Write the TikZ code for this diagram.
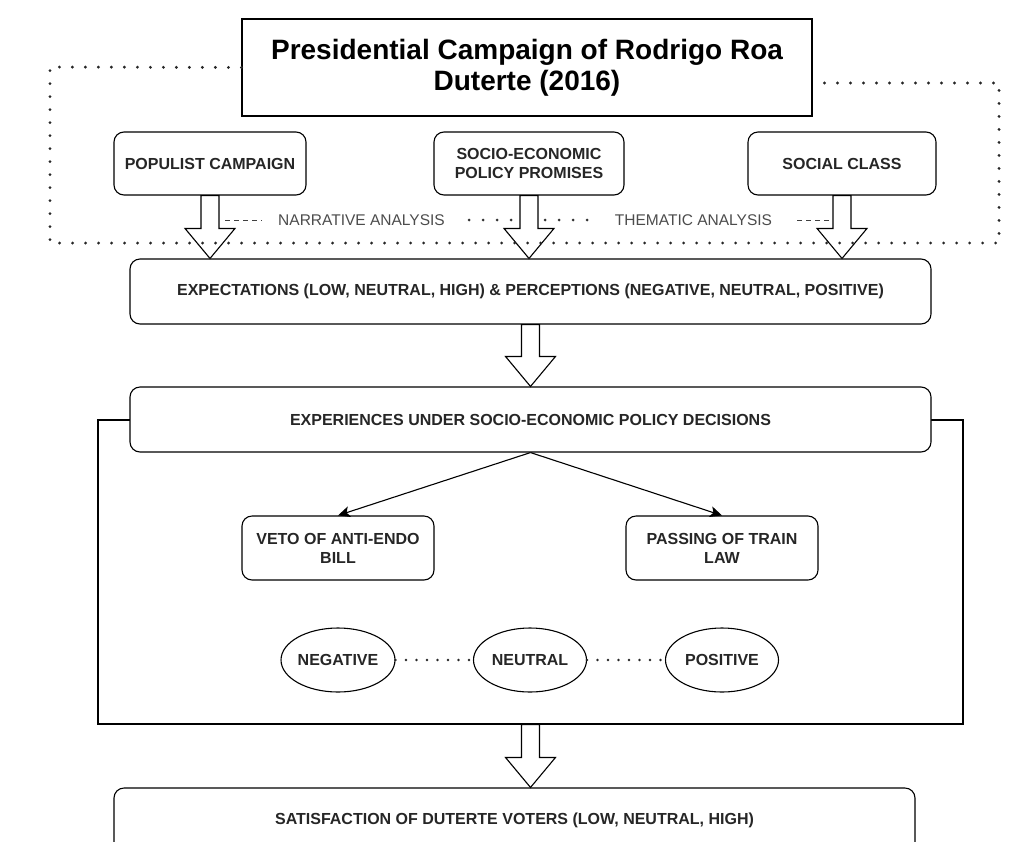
\documentclass[tikz,border=0pt]{standalone}
\usepackage{fontspec}
\setmainfont{Liberation Sans}
\usetikzlibrary{calc,arrows.meta,shapes.geometric}
\newcommand{\blockarrow}[2]{%
  \draw[barrow] let \p1=(#1.south), \p2=(#2.north) in
    (\x1-9pt,\y1) -- (\x1+9pt,\y1) -- (\x1+9pt,\y2+30pt) -- (\x1+25pt,\y2+30pt)
    -- (\x1,\y2) -- (\x1-25pt,\y2+30pt) -- (\x1-9pt,\y2+30pt) -- cycle;}
\begin{document}
\begin{tikzpicture}[x=1pt,y=-1pt,
  box/.style={draw, rounded corners=10pt, line width=1.1pt, fill=white, align=center,
    font=\fontsize{16}{19}\selectfont\bfseries, inner sep=0pt, text=black!85},
  oval/.style={draw, ellipse, line width=1.1pt, fill=white, inner sep=0pt,
    minimum width=113pt, minimum height=64pt, font=\fontsize{16}{19}\selectfont\bfseries, text=black!85},
  barrow/.style={draw, fill=white, line width=1.1pt, line join=miter},
  lbl/.style={font=\fontsize{15.5}{18}\selectfont, text=black!70, inner sep=0pt},
  dashline/.style={draw=black!75, line width=1pt, dash pattern=on 5pt off 4pt},
  dotline/.style={draw=black!80, line width=3pt, line cap=round, dash pattern=on 0pt off 14pt},
  smalldots/.style={draw=black!85, line width=2.8pt, line cap=round, dash pattern=on 0pt off 10.5pt},
  bigdots/.style={draw=black!85, line width=3.2pt, line cap=round, dash pattern=on 0pt off 13pt},
  thinarrow/.style={draw, line width=1.1pt, -{Stealth[length=12pt,width=11pt,inset=3pt]}}
]
\useasboundingbox (0,0) rectangle (1035,841);
\clip (0,0) rectangle (1035,841);

% title
\node[draw, line width=1.2pt, fill=white, minimum width=570pt, minimum height=97pt, align=center,
  font=\fontsize{28}{31}\selectfont\bfseries] (title) at (527,67.5)
  {Presidential Campaign of Rodrigo Roa\\Duterte (2016)};

% first row
\node[box, minimum width=192pt, minimum height=63pt] (pop) at (210,163.5) {POPULIST CAMPAIGN};
\node[box, minimum width=190pt, minimum height=63pt] (soc) at (529,163.5) {SOCIO-ECONOMIC\\POLICY PROMISES};
\node[box, minimum width=188pt, minimum height=63pt] (cls) at (842,163.5) {SOCIAL CLASS};

% expectations
\node[box, minimum width=801pt, minimum height=65pt] (exp) at (530.5,291.5)
  {EXPECTATIONS (LOW, NEUTRAL, HIGH) \& PERCEPTIONS (NEGATIVE, NEUTRAL, POSITIVE)};

% frame and experiences
\node[draw, line width=1.1pt, minimum width=865pt, minimum height=304pt, inner sep=0pt] (frame) at (530.5,572) {};
\node[box, minimum width=801pt, minimum height=65pt] (expr) at (530.5,419.5)
  {EXPERIENCES UNDER SOCIO-ECONOMIC POLICY DECISIONS};

\node[box, minimum width=192pt, minimum height=64pt] (veto) at (338,548) {VETO OF ANTI-ENDO\\BILL};
\node[box, minimum width=192pt, minimum height=64pt] (pass) at (722,548) {PASSING OF TRAIN\\LAW};

\node[oval] (neg) at (338,660) {NEGATIVE};
\node[oval] (neu) at (530,660) {NEUTRAL};
\node[oval] (pos) at (722,660) {POSITIVE};

% satisfaction
\node[box, minimum width=801pt, minimum height=64pt] (sat) at (514.5,820)
  {SATISFACTION OF DUTERTE VOTERS (LOW, NEUTRAL, HIGH)};

% block arrows
\blockarrow{pop}{exp}
\blockarrow{soc}{exp}
\blockarrow{cls}{exp}
\blockarrow{exp}{expr}
\blockarrow{frame}{sat}

% thin arrows
\draw[thinarrow] (expr.south) -- (veto.north);
\draw[thinarrow] (expr.south) -- (pass.north);

% dotted links between ovals
\draw[smalldots] (neg) -- (neu);
\draw[smalldots] (neu) -- (pos);

% analysis labels
\node[lbl] (narr) at (361.5,220) {NARRATIVE ANALYSIS};
\node[lbl] (them) at (693.5,220) {THEMATIC ANALYSIS};
\coordinate (a1) at (225,220);
\coordinate (a2l) at (511,220);
\coordinate (a2r) at (545,220);
\coordinate (a3) at (829,220);
\draw[dashline, shorten >=17pt] (a1) -- (narr.west);
\draw[dotline] (a2l) -- ([xshift=21pt]narr.east);
\draw[dotline] (a2r) -- ([xshift=-27pt]them.west);
\draw[dashline, shorten >=23pt] (a3) -- (them.east);

% dotted outline
\draw[bigdots] (title.west) -- (50,67) -- (50,243) -- (999,243) -- (999,83) -- (title.east |- 0,83);
\end{tikzpicture}
\end{document}
